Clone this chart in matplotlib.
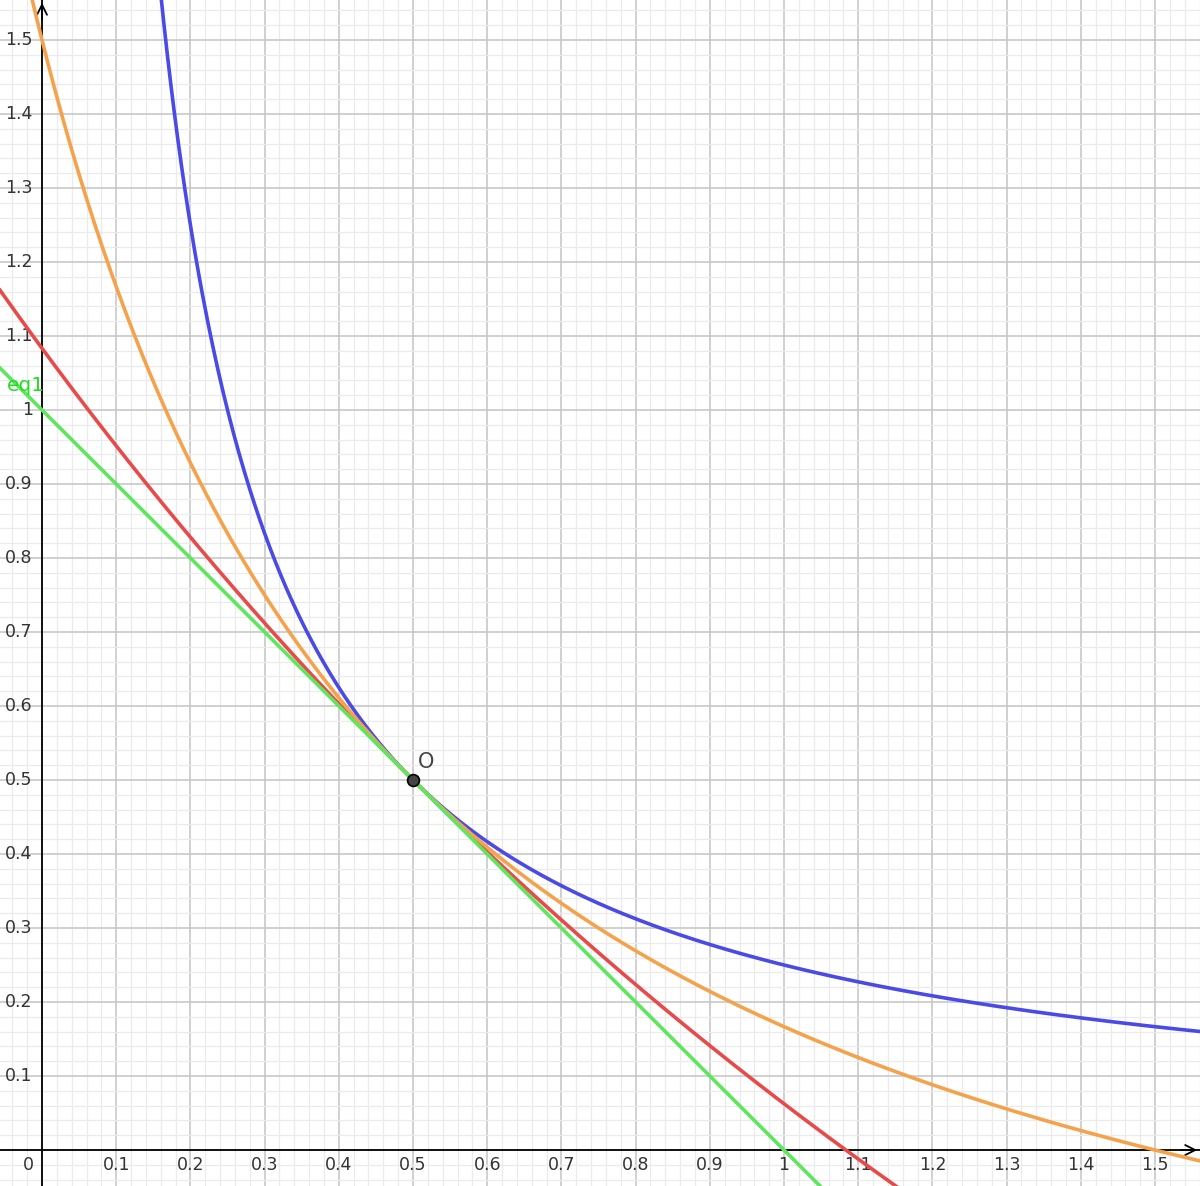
import numpy as np
import matplotlib
matplotlib.use("Agg")
import matplotlib.pyplot as plt
from matplotlib.ticker import MultipleLocator

# Vista (come in GeoGebra)
x_min, x_max = -0.0566, 1.5606
y_min, y_max = -0.0486, 1.554

# Famiglia di curve (x + b)(y + b) = (0.5 + b)^2, tangenti in O = (0.5, 0.5)
shift_blu = 0.0
shift_arancio = 0.5
shift_rosso = 3.0
punto_O = (0.5, 0.5)

tick_x = [0.1, 0.2, 0.3, 0.4, 0.5, 0.6, 0.7, 0.8, 0.9, 1, 1.1, 1.2, 1.3, 1.4, 1.5]
tick_y = [0.1, 0.2, 0.3, 0.4, 0.5, 0.6, 0.7, 0.8, 0.9, 1, 1.1, 1.2, 1.3, 1.4, 1.5]


def curva(x, b):
    return (0.5 + b) ** 2 / (x + b) - b


fig = plt.figure(figsize=(12, 11.86), dpi=100)
ax = fig.add_axes([0, 0, 1, 1])
ax.set_xlim(x_min, x_max)
ax.set_ylim(y_min, y_max)
for s in ax.spines.values():
    s.set_visible(False)

# Griglia
ax.xaxis.set_major_locator(MultipleLocator(0.1))
ax.yaxis.set_major_locator(MultipleLocator(0.1))
ax.xaxis.set_minor_locator(MultipleLocator(0.02))
ax.yaxis.set_minor_locator(MultipleLocator(0.02))
ax.grid(True, which='minor', color='#ebebeb', linewidth=0.9)
ax.grid(True, which='major', color='#c4c4c4', linewidth=1.1)
ax.tick_params(which='both', length=0, labelbottom=False, labelleft=False)
ax.set_axisbelow(True)

# Assi con frecce
ax.axhline(0, color='black', linewidth=1.3, zorder=2)
ax.axvline(0, color='black', linewidth=1.3, zorder=2)
ax.annotate('', xy=(x_max, 0), xytext=(x_max - 0.03, 0),
            arrowprops=dict(arrowstyle='->', color='black', lw=1.3, mutation_scale=18))
ax.annotate('', xy=(0, y_max), xytext=(0, y_max - 0.03),
            arrowprops=dict(arrowstyle='->', color='black', lw=1.3, mutation_scale=18))

# Etichette degli assi
for t in tick_x:
    ax.text(t, -0.0205, f"{t:g}", ha='center', va='center', fontsize=12.5, color='#333333')
for t in tick_y:
    ax.text(-0.0125, t, f"{t:g}", ha='right', va='center', fontsize=12.5, color='#333333')
ax.text(-0.0185, -0.0205, "0", ha='center', va='center', fontsize=12.5, color='#333333')

# Curve
x_blu = np.linspace(0.15, x_max, 600)
ax.plot(x_blu, curva(x_blu, shift_blu), color='#4a4ae6', linewidth=2.6, zorder=3)
xx = np.linspace(x_min, x_max, 600)
ax.plot(xx, curva(xx, shift_rosso), color='#e84a4a', linewidth=2.6, zorder=3)
ax.plot(xx, curva(xx, shift_arancio), color='#f5a24c', linewidth=2.6, zorder=3)
ax.plot(xx, 1 - xx, color='#5ee65e', linewidth=2.6, zorder=3)

ax.text(-0.048, 1.033, "eq1", color='#22dd22', fontsize=14.5, ha='left', va='center')

# Punto O
ax.plot(*punto_O, 'o', markersize=8.5, color='#444444', markeredgecolor='black',
        markeredgewidth=1.2, zorder=5)
ax.text(0.506, 0.525, "O", fontsize=15, color='#444444', ha='left', va='center')

fig.savefig("out.png", dpi=100)
